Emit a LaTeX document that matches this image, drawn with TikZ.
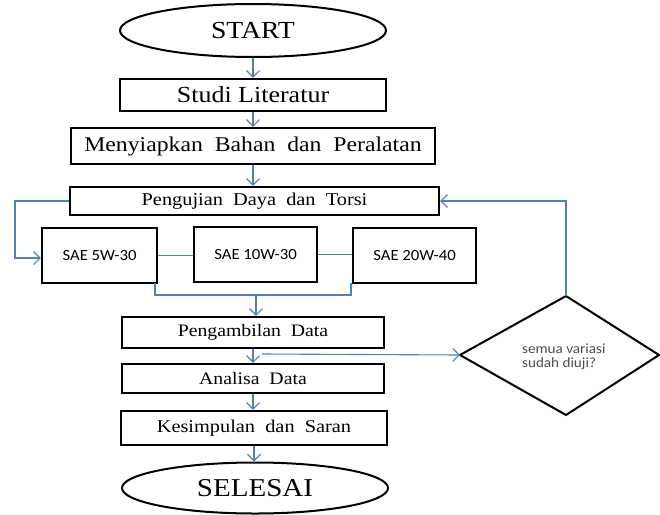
\documentclass[tikz,border=0pt]{standalone}
\usepackage{fontspec}
\setmainfont{Liberation Serif}
\newfontfamily\tnrfont[FakeStretch=1.13]{Liberation Serif}
\newfontfamily\calfont[FakeStretch=1.08]{Carlito}
\usetikzlibrary{arrows.meta,shapes.geometric}
\definecolor{lineblue}{RGB}{79,129,189}
\tikzset{
  boxnode/.style={draw=black,line width=2.4pt,rectangle,inner sep=0pt,fill=white},
  ovalnode/.style={draw=black,line width=2pt,ellipse,inner sep=0pt,fill=white},
  conn/.style={draw=lineblue,line width=1.1pt},
  arr/.style={conn,-{Straight Barb[length=6.5pt,width=13pt]}},
}
\begin{document}
\begin{tikzpicture}[x=1pt,y=1pt]
\useasboundingbox (0,0) rectangle (660,-514);
% nodes
\node[ovalnode,minimum width=266,minimum height=53,font=\tnrfont\fontsize{24.5}{26}\selectfont] (start) at (253,-30.5) {START};
\node[boxnode,minimum width=266,minimum height=32,font=\tnrfont\fontsize{23}{25}\selectfont] (studi) at (253,-95) {Studi Literatur};
\node[boxnode,minimum width=364,minimum height=36,font=\tnrfont\fontsize{21}{23}\selectfont] (siap) at (253,-146) {Menyiapkan\ \ Bahan\ \ dan\ \ Peralatan};
\node[boxnode,minimum width=369,minimum height=28,font=\tnrfont\fontsize{18}{20}\selectfont] (uji) at (254.5,-201) {Pengujian\ \ Daya\ \ dan\ \ Torsi};
\node[boxnode,minimum width=115,minimum height=55,font=\calfont\fontsize{15.5}{17}\selectfont] (sae1) at (99.5,-255.5) {SAE 5W-30};
\node[boxnode,minimum width=123,minimum height=55,font=\calfont\fontsize{15.5}{17}\selectfont] (sae2) at (255.5,-254.5) {SAE 10W-30};
\node[boxnode,minimum width=123,minimum height=55,font=\calfont\fontsize{15.5}{17}\selectfont] (sae3) at (414.5,-255.5) {SAE 20W-40};
\node[boxnode,minimum width=262,minimum height=31,font=\tnrfont\fontsize{17.5}{19}\selectfont] (ambil) at (253,-332.5) {Pengambilan\ \ Data};
\node[boxnode,minimum width=262,minimum height=29,font=\tnrfont\fontsize{17.5}{19}\selectfont] (analisa) at (253,-378.5) {Analisa\ \ Data};
\node[boxnode,minimum width=266,minimum height=34,font=\tnrfont\fontsize{18}{20}\selectfont] (simpul) at (254,-428) {Kesimpulan\ \ dan\ \ Saran};
\node[ovalnode,minimum width=266,minimum height=51,font=\tnrfont\fontsize{25.7}{27}\selectfont] (selesai) at (255,-488) {SELESAI};
% diamond
\coordinate (dl) at (460,-355);
\coordinate (dt) at (566,-296);
\coordinate (dr) at (659,-355);
\coordinate (db) at (566,-415);
\draw[line width=2pt,line join=miter] (dl) -- (dt) -- (dr) -- (db) -- cycle;
\node[anchor=west,align=left,inner sep=0pt,text=black!70,font=\calfont\fontsize{14}{14.5}\selectfont] (qtext) at (522,-357) {semua variasi\\ sudah diuji?};
% helper coordinates
\coordinate (lx) at (15,-201);
\coordinate (ly) at (15,-258);
\coordinate (b1) at (155,-283);
\coordinate (b1d) at (155,-295);
\coordinate (b3) at (351,-283);
\coordinate (b3d) at (351,-295);
\coordinate (bm) at (256,-295);
\coordinate (hstart) at (262,-354);
\coordinate (fb) at (566,-201);
% connectors
\draw[arr] (start.south) -- (studi.north);
\draw[arr] (studi.south) -- (siap.north);
\draw[arr] (siap.south) -- (siap.south |- uji.north);
\draw[arr] (uji.west) -- (lx) -- (ly) -- (sae1.west |- ly);
\draw[conn] (sae1.east) -- (sae2.west |- sae1.east);
\draw[conn] (sae2.east) -- (sae3.west |- sae2.east);
\draw[conn] (b1) -- (b1d) -- (b3d) -- (b3);
\draw[arr] (bm) -- (bm |- ambil.north);
\draw[arr] (ambil.south) -- (analisa.north);
\draw[arr] (hstart) -- (dl);
\draw[arr] (dt) -- (fb) -- (uji.east);
\draw[arr] (analisa.south) -- (analisa.south |- simpul.north);
\draw[arr] (simpul.south) -- (simpul.south |- selesai.north);
\end{tikzpicture}
\end{document}
